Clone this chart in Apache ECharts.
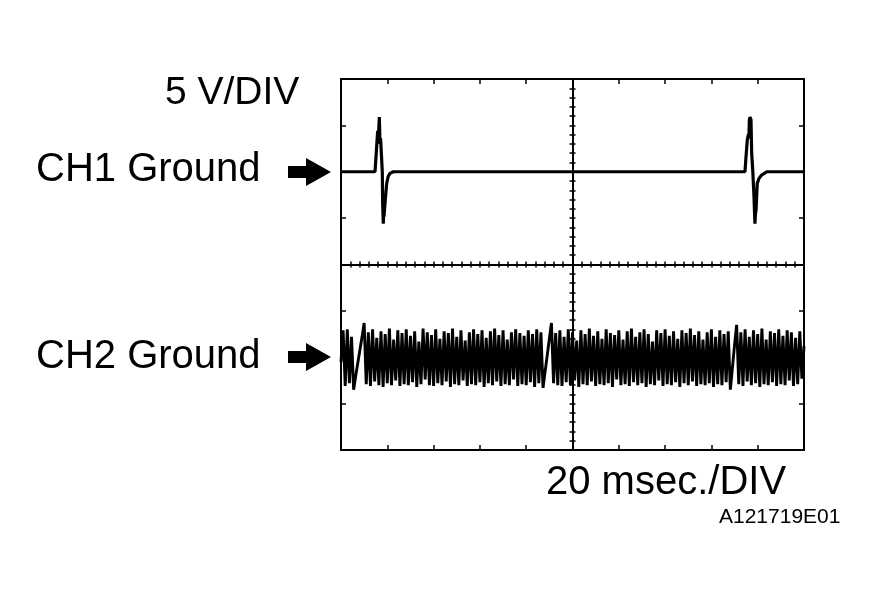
<!DOCTYPE html>
<html>
<head>
<meta charset="utf-8">
<script src="https://cdn.jsdelivr.net/npm/echarts@6/dist/echarts.min.js"></script>
<style>
html,body{margin:0;padding:0;background:#fff;}
#c{width:873px;height:596px;}
</style>
</head>
<body>
<div id="c"></div>
<script>
// ---- data ----
const timeRange = [0, 200];          // ms, 20 ms / div
const timeInterval = 20;
const voltRange = [-10, 10];          // V, 5 V / div, per channel
const voltInterval = 5;

const labelVolt = '5 V/DIV';
const labelTime = '20 msec./DIV';
const labelCh1 = 'CH1 Ground';
const labelCh2 = 'CH2 Ground';
const figureId = 'A121719E01';

// CH1: time (ms) and voltage (V)
const ch1Time = [0, 14.7, 15.4, 15.85, 16.1, 16.55, 16.85, 17.1, 17.84, 17.99, 18.27, 18.45, 18.58, 19.0, 19.74, 20.43, 21.17, 22.6,
                 174.5, 174.95, 175.5, 175.95, 176.2, 176.4, 176.7, 177.1, 177.4, 177.85, 178.4, 178.8, 179.0, 179.3, 179.8, 180.6, 181.7, 183.9, 200];
const ch1Volt = [0, 0, 2.7, 4.4, 3.3, 5.9, 3.0, 3.6, 0, -3.4, -5.6, -4.2, -4.85, -3.4, -1.25, -0.46, -0.17, 0,
                 0, 1.6, 3.4, 4.0, 3.6, 5.6, 5.9, 5.6, 2.0, 0.2, -2.7, -5.6, -4.6, -4.1, -1.25, -0.7, -0.36, 0, 0];

// CH2: voltage (V) per sample, 220 sample intervals over the full 200 ms sweep
const ch2Volt = [
  -0.5, 2.9, -3.1, 3.0, -2.8, 2.2,
  -3.5, -2.0, -0.6, 0.8, 2.2, 3.7,
  -2.9, 2.7, -3.1, 3.0, -2.6, 2.1, -3.0, 2.8, -3.2, 2.5, -2.8, 3.1, -3.0, 1.9, -2.5, 2.9, -3.1, 2.6, -2.9, 3.0,
  -3.0, 2.3, -2.7, 2.8, -3.2, 1.7, -2.9, 3.1, -2.4, 2.7, -3.0, 2.4, -3.1, 3.0, -2.8, 2.0, -3.0, 2.8, -2.6, 2.6,
  -3.2, 3.1, -2.9, 2.2, -3.0, 2.9, -2.5, 1.8, -3.1, 2.7, -2.9, 3.0, -3.0, 2.5, -2.7, 2.9, -3.2, 2.1, -2.8, 2.8,
  -3.0, 3.1, -2.6, 2.4, -3.1, 2.9, -2.9, 1.9, -3.0, 2.7, -2.4, 3.0, -3.1, 2.6, -2.9, 2.3, -3.0, 2.9, -2.7, 2.5,
  -3.2, 3.0, -2.8, 2.7,
  -3.3, -1.5, 0.2, 2.0, 3.7,
  -2.8, 2.6, -3.0, 2.9, -3.1, 2.2, -2.7, 3.0, -3.0, 2.7, -2.5, 1.8, -3.2, 2.9, -2.9, 2.5, -3.0, 3.1, -2.6, 2.3,
  -3.1, 2.8, -2.9, 2.0, -3.0, 3.0, -2.8, 2.6, -3.2, 2.4, -2.4, 2.9, -3.0, 1.9, -2.9, 2.8, -3.1, 3.1, -2.7, 2.2,
  -3.0, 2.7, -2.8, 3.0, -3.2, 2.5, -2.9, 1.7, -3.0, 2.9, -2.5, 2.6, -3.1, 3.0, -2.9, 2.3, -3.0, 2.8, -2.7, 2.0,
  -3.2, 2.9, -2.8, 2.6, -3.0, 3.1, -2.6, 2.4, -3.1, 2.8, -2.9, 1.9, -3.0, 2.7, -2.8, 3.0, -3.2, 2.2, -2.9, 2.9,
  -3.0, 2.5, -2.7, 2.8,
  -3.5, -1.1, 1.3, 3.5,
  -2.9, 2.7, -3.1, 3.0, -2.6, 2.2, -3.0, 2.9, -2.8, 2.5, -3.2, 3.1, -2.9, 1.9, -3.0, 2.8,
  -2.7, 2.6, -3.1, 3.0, -2.9, 2.3, -3.0, 2.9, -2.5, 2.7, -3.1, 2.1, -2.9, 2.8, -2.3, 1.2
];

// ---- chart ----
const FONT = '"Liberation Sans", Arial, Helvetica, sans-serif';
const INK = '#000';
const PL = 341, PT = 79, PW = 463, PH = 371;
const HH = PH / 2;

const ch1Data = ch1Time.map((t, i) => [t, ch1Volt[i]]);
const ch2Data = ch2Volt.map((v, i) => [i, v]);

function xAx(grid, pos, opts) {
  return Object.assign({
    type: 'value', gridIndex: grid, position: pos,
    min: timeRange[0], max: timeRange[1], interval: timeInterval,
    axisLine: { show: true, onZero: false, lineStyle: { color: INK, width: 2 } },
    axisTick: { show: true, inside: true, length: 5, lineStyle: { color: INK, width: 1.5 } },
    minorTick: { show: false },
    axisLabel: { show: false },
    splitLine: { show: false }
  }, opts || {});
}
function yAx(grid, pos, opts) {
  return Object.assign({
    type: 'value', gridIndex: grid, position: pos,
    min: voltRange[0], max: voltRange[1], interval: voltInterval,
    axisLine: { show: true, onZero: false, lineStyle: { color: INK, width: 2 } },
    axisTick: { show: true, inside: true, length: 5, lineStyle: { color: INK, width: 1.5 } },
    minorTick: { show: false },
    axisLabel: { show: false },
    splitLine: { show: false }
  }, opts || {});
}
const crossTick = { show: true, inside: true, length: 3, lineStyle: { color: INK, width: 1.5 } };
const crossMinor = { show: true, splitNumber: 5, length: 3, lineStyle: { color: INK, width: 1.5 } };
const crossTickOut = { show: true, inside: false, length: 3, lineStyle: { color: INK, width: 1.5 } };

function arrow(cy) {
  return {
    type: 'polygon',
    shape: { points: [[288, cy - 6], [306, cy - 6], [306, cy - 14], [331, cy], [306, cy + 14], [306, cy + 6], [288, cy + 6]] },
    style: { fill: INK }
  };
}
function text(str, x, y, size) {
  return { type: 'text', left: x, top: y, style: { text: str, font: size + 'px ' + FONT, fill: INK } };
}

const chart = echarts.init(document.getElementById('c'), null, { renderer: 'canvas' });
chart.setOption({
  animation: false,
  backgroundColor: '#fff',
  grid: [
    { left: PL, top: PT, width: PW, height: HH },
    { left: PL, top: PT + HH, width: PW, height: HH },
    { left: PL, top: PT, width: PW / 2, height: PH },
    { left: PL + PW / 2, top: PT, width: PW / 2, height: PH }
  ],
  xAxis: [
    xAx(0, 'bottom', { axisTick: crossTick, minorTick: crossMinor }),
    xAx(0, 'top'),
    xAx(1, 'top', { axisTick: crossTick, minorTick: crossMinor }),
    xAx(1, 'bottom'),
    { type: 'value', gridIndex: 1, show: false, min: 0, max: ch2Volt.length - 1 },
    { type: 'value', gridIndex: 2, show: false, min: 0, max: 1 },
    { type: 'value', gridIndex: 3, show: false, min: 0, max: 1 }
  ],
  yAxis: [
    yAx(0, 'left'),
    yAx(0, 'right'),
    yAx(1, 'left'),
    yAx(1, 'right'),
    yAx(2, 'right', { min: 0, max: 8, interval: 1, axisTick: crossTickOut, minorTick: crossMinor }),
    yAx(3, 'left', { min: 0, max: 8, interval: 1, axisTick: crossTickOut, minorTick: crossMinor })
  ],
  series: [
    {
      type: 'line', name: 'CH1', xAxisIndex: 0, yAxisIndex: 0, data: ch1Data,
      showSymbol: false, symbol: 'none', clip: false,
      lineStyle: { color: INK, width: 3.2 }, z: 5
    },
    {
      type: 'line', name: 'CH2', xAxisIndex: 4, yAxisIndex: 2, data: ch2Data,
      showSymbol: false, symbol: 'none', clip: false,
      lineStyle: { color: INK, width: 2.9 }, z: 5
    }
  ],
  graphic: [
    text(labelVolt, 165, 74, 39),
    text(labelCh1, 36, 150, 40),
    text(labelCh2, 36, 337, 40),
    text(labelTime, 546, 463, 40),
    text(figureId, 719, 507, 21),
    arrow(172),
    arrow(357)
  ]
});
</script>
</body>
</html>
